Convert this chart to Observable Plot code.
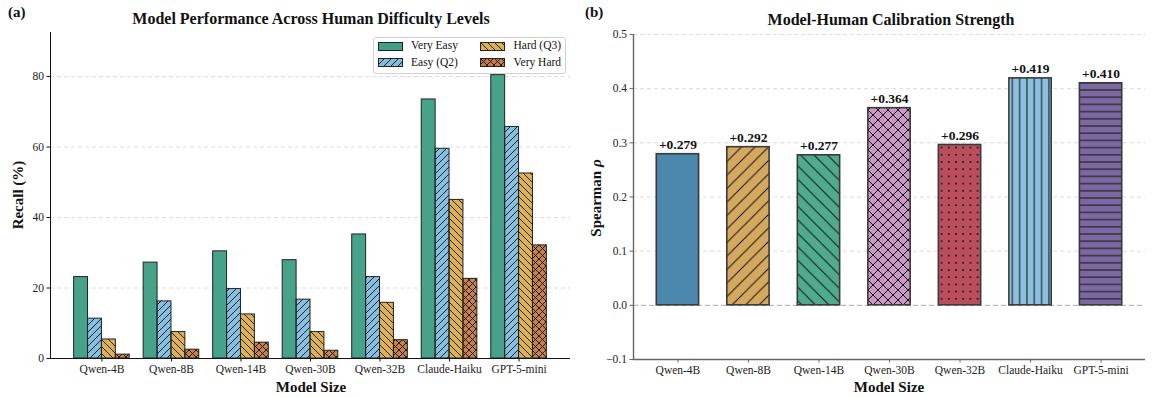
<!DOCTYPE html>
<html><head><meta charset="utf-8">
<script src="https://cdn.jsdelivr.net/npm/d3@7"></script>
<script src="https://cdn.jsdelivr.net/npm/@observablehq/plot@0.6"></script>
<style>
body{margin:0;background:#fff;font-family:"Liberation Serif","Times New Roman",serif;}
#wrap{position:relative;width:1153px;height:398px;overflow:hidden;background:#fff;}
.abs{position:absolute;}
.t{font-weight:bold;white-space:nowrap;line-height:1;color:#111;}
.ctr{transform:translateX(-50%);}
.rot{transform:translate(-50%,-50%) rotate(-90deg);}
#legend{position:absolute;left:373px;top:37px;width:191px;height:35px;border:1px solid #d0d0d0;border-radius:3px;background:rgba(255,255,255,0.85);font-size:11.5px;color:#111;}
#legend .it{position:absolute;white-space:nowrap;line-height:1;}
</style></head><body>
<div id="wrap"></div>
<script>
// ---------- data ----------
const models = ["Qwen-4B","Qwen-8B","Qwen-14B","Qwen-30B","Qwen-32B","Claude-Haiku","GPT-5-mini"];
const difficulties = ["Very Easy","Easy (Q2)","Hard (Q3)","Very Hard"];
const recallVeryEasy = [23.1,27.2,30.4,27.9,35.2,73.5,80.4];
const recallEasy     = [11.3,16.2,19.7,16.7,23.1,59.5,65.7];
const recallHard     = [5.4,7.5,12.5,7.5,15.8,45.0,52.5];
const recallVeryHard = [1.1,2.5,4.5,2.2,5.2,22.6,32.1];
const spearman = [0.279,0.292,0.277,0.364,0.296,0.419,0.410];
const recallTicks = [0,20,40,60,80];
const rhoTicks = [-0.1,0,0.1,0.2,0.3,0.4,0.5];

// ---------- styles ----------
const diffColors = ["#40a085","#82bddf","#ddb04e","#c57d45"];
const diffHatch = [null,"hA-fwd","hA-back","hA-cross"];
const modelColors = ["#4684aa","#d4a55a","#4aa88a","#c896c4","#b84858","#87bede","#78649e"];
const modelHatch = [null,"hB-fwd","hB-back","hB-cross","hB-dots","hB-vert","hB-horz"];
const FONT = "Liberation Serif, Times New Roman, serif";

// ---------- hatch patterns ----------
function fwd(s){return `M0,${s} L${s},0 M-1,1 L1,-1 M${s-1},${s+1} L${s+1},${s-1}`;}
function back(s){return `M0,0 L${s},${s} M${s-1},-1 L${s+1},1 M-1,${s-1} L1,${s+1}`;}
function pat(id,s,inner){return `<pattern id="${id}" patternUnits="userSpaceOnUse" width="${s}" height="${s}">${inner}</pattern>`;}
function pth(d,w){return `<path d="${d}" stroke="#111" stroke-width="${w}" fill="none"/>`;}
const sA=7, sB=13.5, sB2=7.2, sX=10;
const defs = `<svg width="0" height="0" style="position:absolute"><defs>
${pat("hA-fwd",sA,pth(fwd(sA),0.9))}
${pat("hA-back",sA,pth(back(sA),0.9))}
${pat("hA-cross",sA,pth(fwd(sA)+" "+back(sA),0.9))}
${pat("hB-fwd",sB,pth(fwd(sB),1))}
${pat("hB-back",sB,pth(back(sB),1))}
${pat("hB-cross",sX,pth(fwd(sX)+" "+back(sX),1))}
${pat("hB-dots",sB2,`<circle cx="${sB2/2}" cy="${sB2/2}" r="1" fill="#111"/>`)}
${pat("hB-vert",7.3,pth(`M3.65,0 L3.65,7.3`,1))}
${pat("hB-horz",sB2,pth(`M0,${sB2/2} L${sB2},${sB2/2}`,1))}
</defs></svg>`;

const wrap = document.getElementById("wrap");
wrap.insertAdjacentHTML("beforeend", defs);

// ---------- panel (a) ----------
const recallSeries = [recallVeryEasy, recallEasy, recallHard, recallVeryHard];
const rows = [];
models.forEach((m,i)=>difficulties.forEach((d,j)=>rows.push({model:m,i,difficulty:d,j,value:recallSeries[j][i],color:diffColors[j],hatch:diffHatch[j]})));
const groupWidth = 0.8, barW = groupWidth/difficulties.length;
const xlimA = [-groupWidth/2-0.34, models.length-1+groupWidth/2+0.34];
const x1 = d => d.i - groupWidth/2 + d.j*barW;
const x2 = d => x1(d) + barW;

const plotA = Plot.plot({
  width: 578, height: 398, marginLeft: 50, marginRight: 8, marginTop: 32, marginBottom: 40,
  style: {fontFamily: FONT, fontSize: "11.5px", color: "#222", background: "transparent", overflow: "visible"},
  x: {domain: xlimA},
  y: {domain: [0, 92.5]},
  color: {type: "identity"},
  marks: [
    Plot.gridY(recallTicks.filter(t=>t>0), {stroke:"#dcdcdc", strokeOpacity:1, strokeDasharray:"4,3"}),
    Plot.rectY(rows, {x1, x2, y1:0, y2:"value", fill:"color", fillOpacity:0.97}),
    Plot.rectY(rows.filter(d=>d.hatch), {x1, x2, y1:0, y2:"value", fill:d=>`url(#${d.hatch})`}),
    Plot.rectY(rows, {x1, x2, y1:0, y2:"value", fill:"none", stroke:"#222", strokeWidth:1}),
    Plot.axisY({ticks: recallTicks, tickSize: 3.5, tickPadding: 3, label: null, stroke:"#111", fill:"#222"}),
    Plot.axisX({ticks: d3.range(models.length), tickFormat: i => models[i], tickSize: 3.5, tickPadding: 3, label: null, stroke:"#111", fill:"#222"}),
    Plot.ruleY([0], {stroke:"#111", strokeWidth:1}),
    Plot.ruleX([xlimA[0]], {stroke:"#111", strokeWidth:1})
  ]
});
plotA.style.position = "absolute"; plotA.style.left = "0px"; plotA.style.top = "0px";
wrap.appendChild(plotA);

// ---------- panel (b) ----------
const rhoRows = models.map((m,i)=>({model:m,i,value:spearman[i],color:modelColors[i],hatch:modelHatch[i]}));
const halfB = 0.3;
const xlimB = [-halfB-0.33, models.length-1+halfB+0.33];
const plotB = Plot.plot({
  width: 575, height: 398, marginLeft: 55, marginRight: 8, marginTop: 34, marginBottom: 39,
  style: {fontFamily: FONT, fontSize: "11.5px", color: "#222", background: "transparent", overflow: "visible"},
  x: {domain: xlimB},
  y: {domain: [-0.1, 0.5]},
  color: {type: "identity"},
  marks: [
    Plot.gridY(rhoTicks.filter(t=>t>-0.1 && t!==0), {stroke:"#dcdcdc", strokeOpacity:1, strokeDasharray:"4,3"}),
    Plot.ruleY([0], {stroke:"#aaa", strokeWidth:1, strokeDasharray:"5,3"}),
    Plot.rectY(rhoRows, {x1:d=>d.i-halfB, x2:d=>d.i+halfB, y1:0, y2:"value", fill:"color", fillOpacity:0.97}),
    Plot.rectY(rhoRows.filter(d=>d.hatch), {x1:d=>d.i-halfB, x2:d=>d.i+halfB, y1:0, y2:"value", fill:d=>`url(#${d.hatch})`}),
    Plot.rectY(rhoRows, {x1:d=>d.i-halfB, x2:d=>d.i+halfB, y1:0, y2:"value", fill:"none", stroke:"#3a3a3a", strokeWidth:1.6}),
    Plot.text(rhoRows, {x:"i", y:"value", text:d=>"+"+d.value.toFixed(3), lineAnchor:"bottom", dy:-5, fontWeight:"bold", fontSize:13.5, fill:"#111"}),
    Plot.axisY({ticks: rhoTicks, tickFormat: d3.format(".1f"), tickSize: 3.5, tickPadding: 3, label: null, stroke:"#666", fill:"#222"}),
    Plot.axisX({ticks: d3.range(models.length), tickFormat: i => models[i], tickSize: 3.5, tickPadding: 3, label: null, stroke:"#666", fill:"#222"}),
    Plot.ruleY([-0.1], {stroke:"#666", strokeWidth:1.4}),
    Plot.ruleX([xlimB[0]], {stroke:"#666", strokeWidth:1.4})
  ]
});
plotB.style.position = "absolute"; plotB.style.left = "578px"; plotB.style.top = "0px";
wrap.appendChild(plotB);

// ---------- text overlays ----------
function addText(html, css, cls){
  const el = document.createElement("div");
  el.className = "abs t " + (cls||"");
  el.innerHTML = html;
  Object.assign(el.style, css);
  wrap.appendChild(el);
}
addText("(a)", {left:"8px", top:"5px", fontSize:"15px"});
addText("(b)", {left:"585px", top:"5px", fontSize:"15px"});
addText("Model Performance Across Human Difficulty Levels", {left:"311px", top:"11px", fontSize:"16px"}, "ctr");
addText("Model-Human Calibration Strength", {left:"891px", top:"12px", fontSize:"16px"}, "ctr");
addText("Model Size", {left:"311px", top:"380px", fontSize:"15px"}, "ctr");
addText("Model Size", {left:"889px", top:"380px", fontSize:"15px"}, "ctr");
addText("Recall (%)", {left:"18px", top:"195px", fontSize:"15px"}, "rot");
addText("Spearman <i>ρ</i>", {left:"596px", top:"198px", fontSize:"15px"}, "rot");

// ---------- legend ----------
const legend = document.createElement("div");
legend.id = "legend";
const legendPos = [[3.5,8],[3.5,24.5],[106,8],[106,24.5]];
difficulties.forEach((d,j)=>{
  const [lx,ly] = legendPos[j];
  const sw = document.createElementNS("http://www.w3.org/2000/svg","svg");
  sw.setAttribute("width","25"); sw.setAttribute("height","9");
  sw.style.position="absolute"; sw.style.left=lx+"px"; sw.style.top=(ly-4.5)+"px";
  sw.innerHTML = `<rect x="0.5" y="0.5" width="24" height="8" fill="${diffColors[j]}"/>` +
    (diffHatch[j]?`<rect x="0.5" y="0.5" width="24" height="8" fill="url(#${diffHatch[j]})"/>`:"") +
    `<rect x="0.5" y="0.5" width="24" height="8" fill="none" stroke="#222" stroke-width="1"/>`;
  legend.appendChild(sw);
  const tx = document.createElement("div");
  tx.className = "it"; tx.textContent = d;
  tx.style.left = (lx+33.5)+"px"; tx.style.top = (ly-6)+"px";
  legend.appendChild(tx);
});
wrap.appendChild(legend);
</script>
</body></html>
